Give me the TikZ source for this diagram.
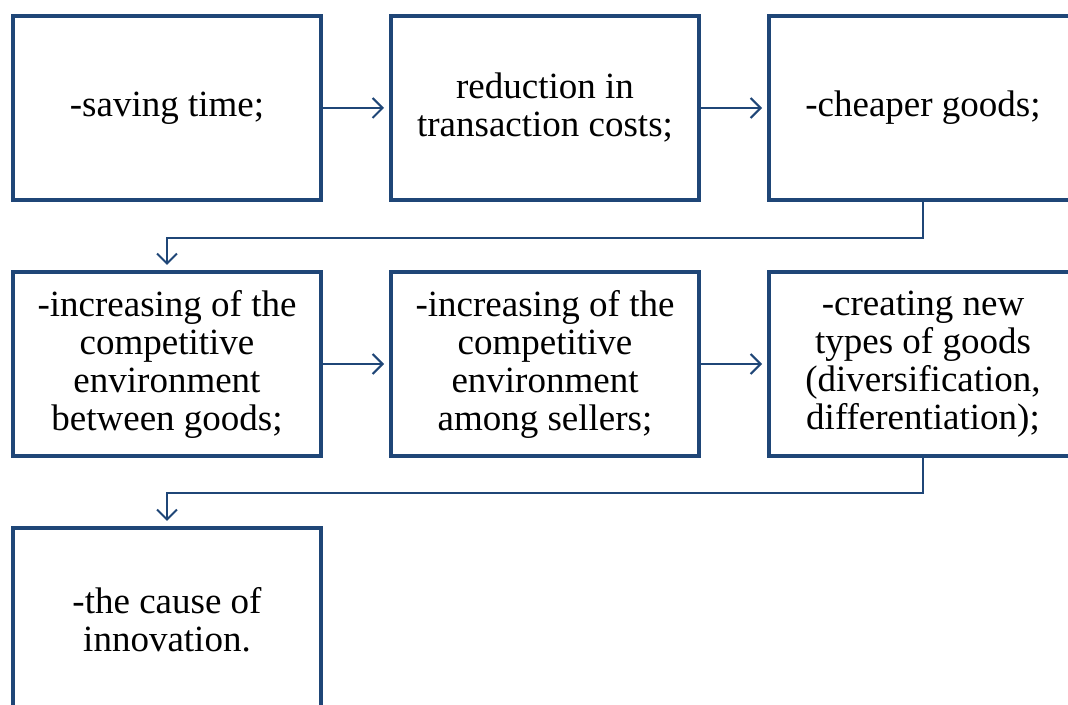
\documentclass[tikz,border=0pt]{standalone}
\usepackage{fontspec}
\setmainfont{Liberation Serif}
\usetikzlibrary{positioning, arrows.meta}

\definecolor{linkblue}{HTML}{1F4677}
\tikzset{
  stage/.style={draw=linkblue, line width=4pt, minimum width=308pt, minimum height=184pt,
    inner sep=0pt, align=center, font=\fontsize{37}{38}\selectfont},
  link/.style={draw=linkblue, line width=2pt, -{Straight Barb[length=10pt, width=20pt, line width=2pt]}, shorten >=5pt}
}

\begin{document}
\begin{tikzpicture}[x=1pt, y=1pt]
  \clip (0,0) rectangle (1068,704);
  % first row
  \node[stage] (save) at (167,596) {-saving time;};
  \node[stage, right=66pt of save] (cost) {reduction in\\transaction costs;};
  \node[stage, right=66pt of cost] (cheap) {-cheaper goods;};
  % second row
  \node[stage, below=68pt of save] (compgoods) {-increasing of the\\competitive\\environment\\between goods;};
  \node[stage, right=66pt of compgoods] (compsell) {-increasing of the\\competitive\\environment\\among sellers;};
  \node[stage, right=66pt of compsell] (newgoods) {-creating new\\types of goods\\(diversification,\\differentiation);};
  % third row
  \node[stage, below=68pt of compgoods] (innov) {-the cause of\\innovation.};

  \draw[link] (save) -- (cost);
  \draw[link] (cost) -- (cheap);
  \draw[link] (compgoods) -- (compsell);
  \draw[link] (compsell) -- (newgoods);
  \draw[link] (cheap.south) -- ++(0,-36) -| (compgoods.north);
  \draw[link] (newgoods.south) -- ++(0,-35) -| (innov.north);
\end{tikzpicture}
\end{document}
